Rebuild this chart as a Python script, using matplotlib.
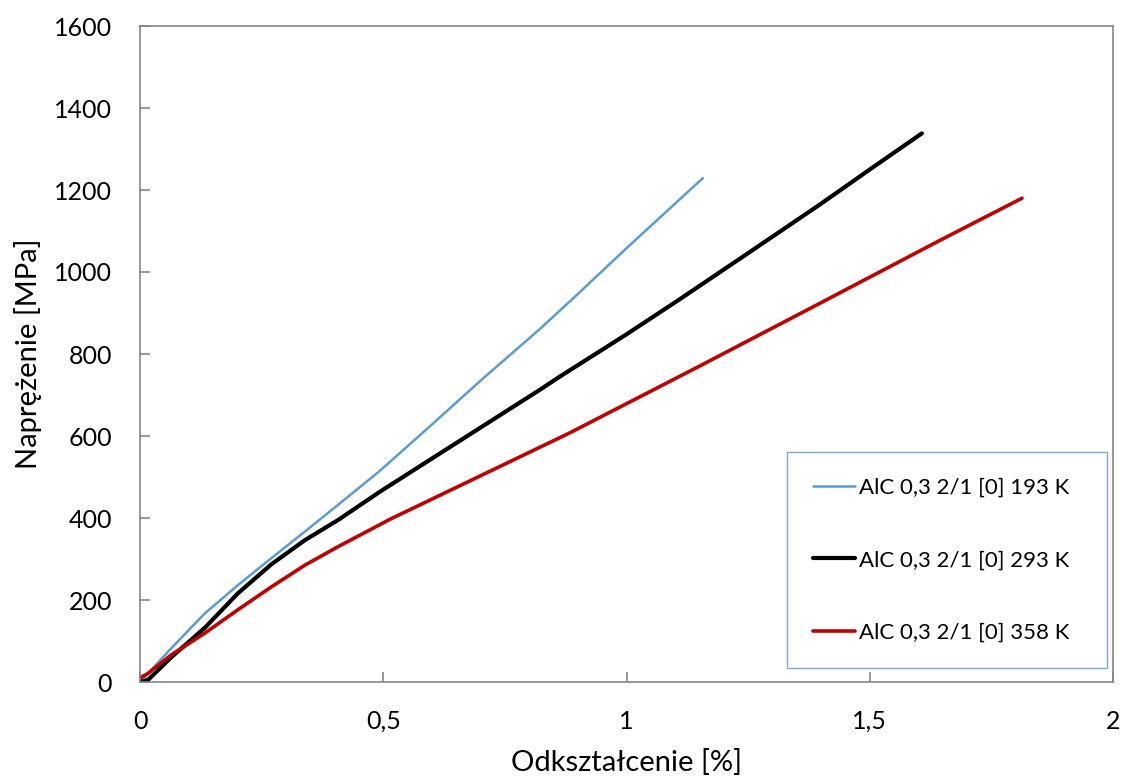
import matplotlib
matplotlib.use("Agg")
import matplotlib.pyplot as plt

plt.rcParams['font.family'] = ['Lato', 'DejaVu Sans']

# Data
blue_x = [0, 0.0164, 0.064, 0.133, 0.201, 0.270, 0.339, 0.407, 0.493, 0.6, 0.7, 0.821, 0.887, 1.0, 1.157]
blue_y = [0, 21, 82, 167, 236, 302, 367, 432, 515, 628, 735, 860, 932, 1058, 1229]

black_x = [0, 0.0164, 0.064, 0.133, 0.201, 0.270, 0.339, 0.407, 0.493, 0.6, 0.821, 0.863, 1.0, 1.11, 1.25, 1.398, 1.5, 1.607]
black_y = [0, 5, 60, 132, 216, 287, 346, 395, 464, 545, 712, 745, 848, 934, 1046, 1165, 1250, 1338]

red_x = [0, 0.0164, 0.064, 0.133, 0.201, 0.270, 0.339, 0.407, 0.514, 0.821, 0.884, 1.151, 1.398, 1.644, 1.813]
red_y = [10, 21, 66, 119, 176, 232, 285, 330, 397, 572, 608, 771, 924, 1077, 1180]

labels = ["AlC 0,3 2/1 [0] 193 K", "AlC 0,3 2/1 [0] 293 K", "AlC 0,3 2/1 [0] 358 K"]
x_ticks = [0, 0.5, 1, 1.5, 2]
x_tick_labels = ["0", "0,5", "1", "1,5", "2"]
y_ticks = [0, 200, 400, 600, 800, 1000, 1200, 1400, 1600]

fig = plt.figure(figsize=(11.24, 7.8), dpi=100)
ax = fig.add_axes([140/1124, 1-682/780, 973/1124, 656/780])

ax.plot(blue_x, blue_y, color='#5B9BD5', lw=1.8, label=labels[0], solid_capstyle='round', solid_joinstyle='round')
ax.plot(black_x, black_y, color='black', lw=3.0, label=labels[1], solid_capstyle='round', solid_joinstyle='round')
ax.plot(red_x, red_y, color='#C00000', lw=2.6, label=labels[2], solid_capstyle='round', solid_joinstyle='round')

ax.set_xlim(0, 2)
ax.set_ylim(0, 1600)
ax.set_xticks(x_ticks)
ax.set_xticklabels(x_tick_labels)
ax.set_yticks(y_ticks)

for s in ax.spines.values():
    s.set_color('#868686')
    s.set_linewidth(1.2)

ax.tick_params(direction='in', length=7, width=1.2, color='#868686', labelsize=18, pad=20)
ax.tick_params(axis='y', pad=20)

ax.set_xlabel("Odkształcenie [%]", fontsize=21, labelpad=12)
ax.set_ylabel("Naprężenie [MPa]", fontsize=21, labelpad=9)

leg = ax.legend(loc='lower left', bbox_to_anchor=(0.665, 0.0213, 0.329, 0.33), mode='expand',
                fontsize=16, frameon=True, fancybox=False, framealpha=1,
                edgecolor='#7FA7D9', borderpad=1.15, labelspacing=2.35,
                handlelength=1.9, handletextpad=0.2, borderaxespad=0)
leg.get_frame().set_linewidth(1.0)

fig.savefig("out.png", dpi=100)
